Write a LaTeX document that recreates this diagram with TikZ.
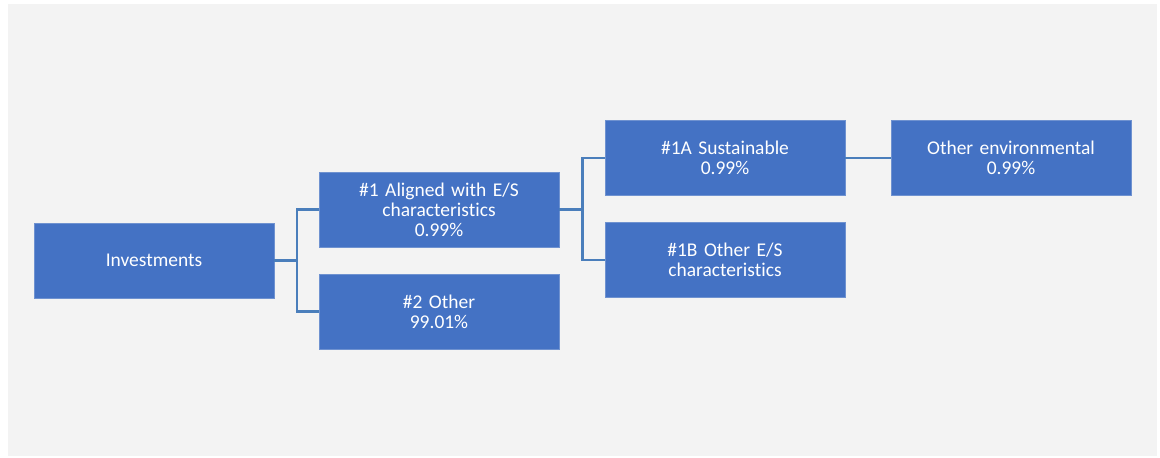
\documentclass[tikz,border=0pt]{standalone}
\usepackage{fontspec}
\setmainfont{Carlito}[Ligatures=NoCommon]
\definecolor{boxblue}{HTML}{4472C4}
\definecolor{boxedge}{HTML}{6F92D0}
\definecolor{linkblue}{HTML}{4A7EBB}
\definecolor{bggray}{HTML}{F3F3F3}
\begin{document}
\begin{tikzpicture}[x=0.75pt,y=-0.75pt,
  box/.style={draw=boxedge,line width=0.6pt,fill=boxblue,text=white,
    minimum width=180pt,minimum height=56.25pt,inner sep=2pt,
    text width=174pt,align=center,font=\fontsize{14.6}{15}\selectfont},
  conn/.style={draw=linkblue,line width=1.6pt}]
\useasboundingbox (0,0) rectangle (1160,457);
\fill[bggray] (8,4) rectangle (1157,456);
\node[box] (inv) at (154,260.5) {Investments};
\node[box] (a1) at (439,209.5) {\#1 Aligned with E/S\\characteristics\\0.99\%};
\node[box] (o2) at (439,311.5) {\#2 Other\\99.01\%};
\node[box] (s1a) at (725,158) {\#1A Sustainable\\0.99\%};
\node[box] (o1b) at (725,260) {\#1B Other E/S\\characteristics};
\node[box] (env) at (1011,158) {Other environmental\\0.99\%};
\coordinate (j1) at (297,260.5);
\coordinate (j2) at (582.5,209.5);
\draw[conn] (inv.east) -- (j1);
\draw[conn] (a1.west) -| (j1);
\draw[conn] (o2.west) -| (j1);
\draw[conn] (a1.east) -- (j2);
\draw[conn] (s1a.west) -| (j2);
\draw[conn] (o1b.west) -| (j2);
\draw[conn] (s1a.east) -- (env.west);
\end{tikzpicture}
\end{document}
